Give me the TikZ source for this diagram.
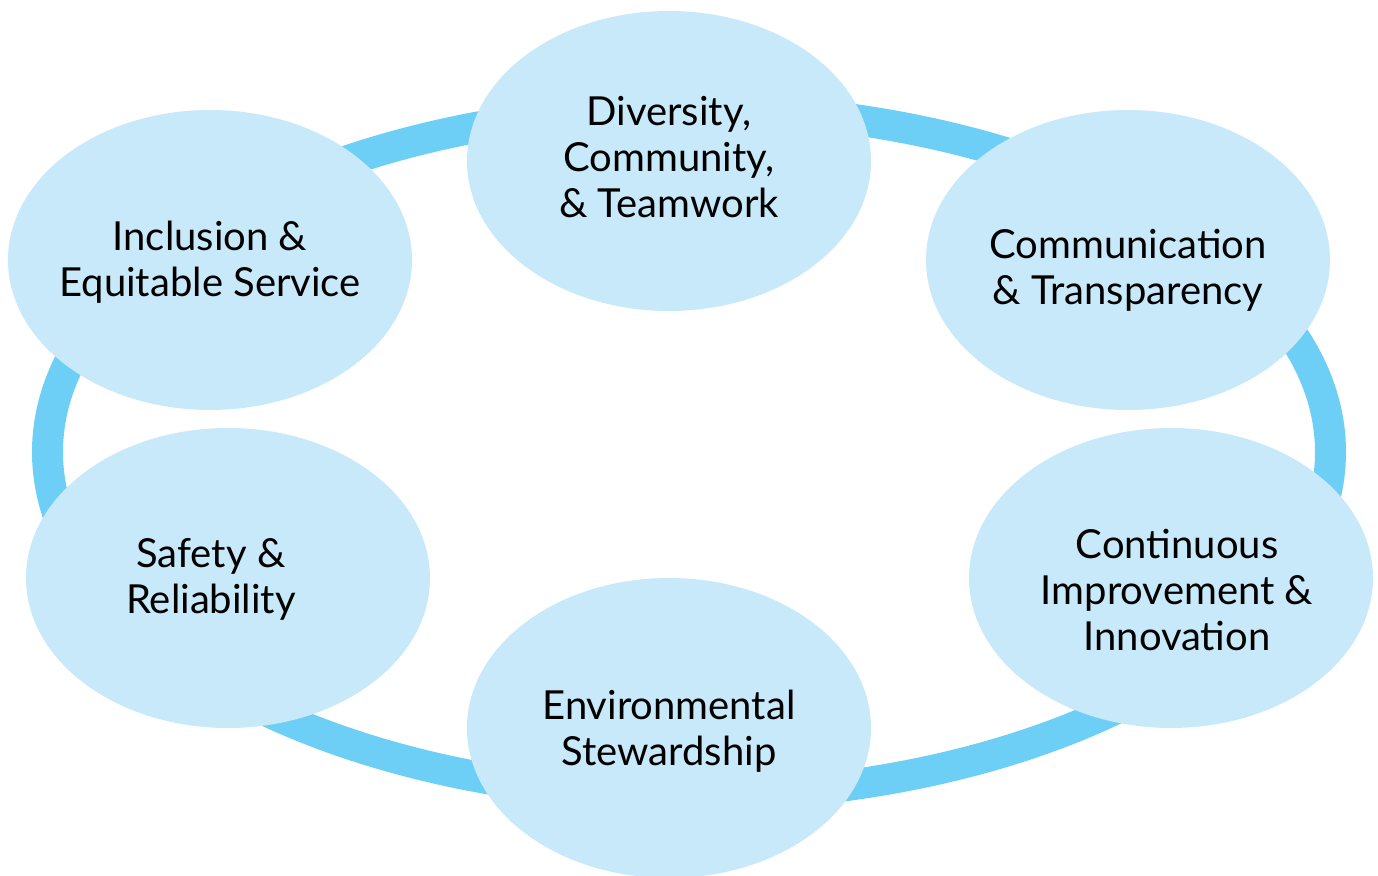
\documentclass[tikz,border=0pt]{standalone}
\usepackage{fontspec}
\setmainfont{Lato}
\usepackage{tikz}
\usetikzlibrary{shapes.geometric}
\definecolor{ringblue}{HTML}{6DCFF6}
\definecolor{bubble}{HTML}{C7E9F9}

\begin{document}
\begin{tikzpicture}[x=0.5pt, y=-0.5pt,
    bubblenode/.style={ellipse, fill=bubble, inner sep=0, minimum width=202pt, minimum height=150pt},
    label/.style={align=center, font=\fontsize{20}{23}\selectfont, text=black}]
    \useasboundingbox (0,0) rectangle (1378,876);
    % the ring behind the values
    \draw[ringblue, line width=15.5pt] (689,452) ellipse [x radius=641.5, y radius=344];

    \node[bubblenode] (top) at (669,161) {};
    \node[bubblenode] (incl) at (210,260) {};
    \node[bubblenode] (comm) at (1128,260) {};
    \node[bubblenode] (safe) at (228,578) {};
    \node[bubblenode] (cont) at (1171,578) {};
    \node[bubblenode] (env) at (669,728) {};

    \node[label] (toptext) at (669,157) {Diversity,\\Community,\\\& Teamwork};
    \node[label] (incltext) at (210,262) {Inclusion \&\\Equitable Service};
    \node[label] (commtext) at (1128,270) {Communication\\\& Transparency};
    \node[label] (safetext) at (211,579) {Safety \&\\Reliability};
    \node[label] (conttext) at (1177,590) {Continuous\\Improvement \&\\Innovation};
    \node[label] (envtext) at (669,731) {Environmental\\Stewardship};
\end{tikzpicture}
\end{document}
